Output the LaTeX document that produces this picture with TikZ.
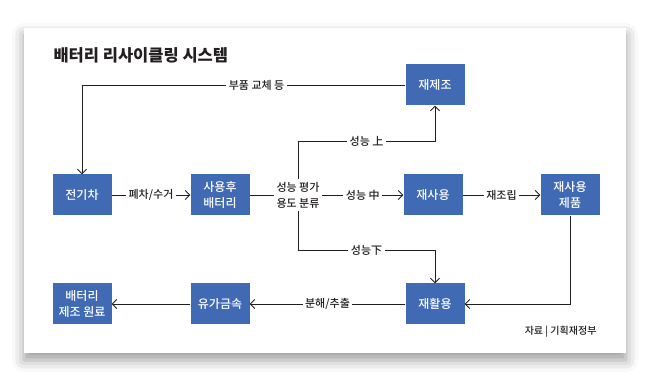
\documentclass[tikz,border=0pt]{standalone}
\usepackage{fontspec}
\setmainfont{Noto Sans CJK KR}
\newfontfamily\krmed{Noto Sans CJK KR Medium}
\newfontfamily\krblack{Noto Sans CJK KR Black}
\usetikzlibrary{positioning, arrows.meta, shadows.blur}
\definecolor{boxblue}{RGB}{64,106,180}
\definecolor{inkgray}{RGB}{35,31,32}

\begin{document}
\begin{tikzpicture}[x=1pt, y=1pt, node distance=138pt, >={Straight Barb[length=4.5pt,width=9pt]},
    box/.style={fill=boxblue, text=white, minimum width=59pt, minimum height=41pt, align=center, inner sep=1pt, font=\krmed\fontsize{12}{16}\selectfont},
    lbl/.style={fill=white, text=inkgray, inner sep=2.5pt, align=center, font=\krmed\fontsize{11}{16}\selectfont},
    conn/.style={draw=inkgray, line width=0.9pt}]
    \useasboundingbox (0,0) rectangle (650,377);
    % Card
    \fill[white, blur shadow={shadow xshift=0pt, shadow yshift=-7pt, shadow blur radius=12pt}] (24,24) rectangle (626,349);
    \node[anchor=west, text=inkgray, font=\krblack\fontsize{16.5}{19}\selectfont] (title) at (50,322) {배터리 리사이클링 시스템};

    % Nodes
    \node[box] (ev) at (82,182) {전기차};
    \node[box, right of=ev] (used) {사용후\\배터리};
    \node[lbl, right of=used, node distance=78pt] (eval) {성능 평가\\용도 분류};
    \node[box] (reuse) at (433,182) {재사용};
    \node[box, right of=reuse, node distance=137pt] (product) {재사용\\제품};
    \node[box] (reman) at (435,292) {재제조};
    \node[box] (recyc) at (435,73) {재활용};
    \node[box, left of=recyc, node distance=215pt] (metal) {유가금속};
    \node[box, left of=metal] (raw) {배터리\\제조 원료};
    \node[anchor=east, text=inkgray, font=\krmed\fontsize{10}{12}\selectfont] (source) at (600,45) {자료 | 기획재정부};
    \coordinate (upturn) at (reman.south |- 0,236);
    \coordinate (downturn) at (recyc.north |- 0,127);

    % Edges
    \draw[conn, ->] (reman.west) -| node[lbl, pos=0.23] {부품 교체 등} (ev.north);
    \draw[conn, ->] (ev) -- node[lbl] {폐차/수거} (used);
    \draw[conn] (used) -- (eval);
    \draw[conn, ->] (eval) -- node[lbl] {성능 中} (reuse);
    \draw[conn, ->] (eval.north) |- node[lbl, pos=0.75] {성능 上} (upturn) -- (reman.south);
    \draw[conn, ->] (eval.south) |- node[lbl, pos=0.75] {성능下} (downturn) -- (recyc.north);
    \draw[conn, ->] (reuse) -- node[lbl] {재조립} (product);
    \draw[conn, ->] (product.south) |- (recyc.east);
    \draw[conn, ->] (recyc) -- node[lbl] {분해/추출} (metal);
    \draw[conn, ->] (metal) -- (raw);
\end{tikzpicture}
\end{document}
